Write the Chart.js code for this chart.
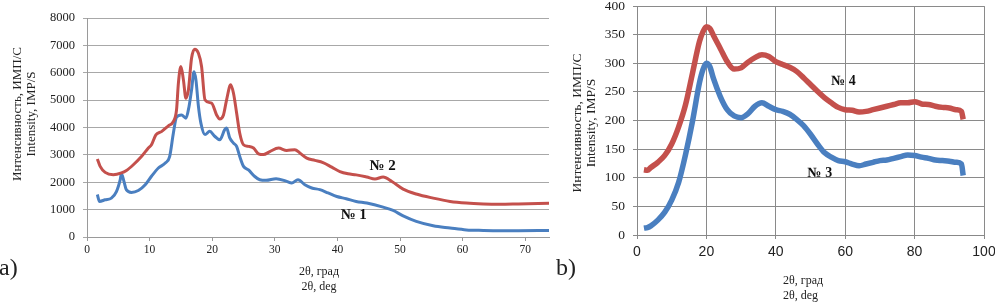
<!DOCTYPE html>
<html>
<head>
<meta charset="utf-8">
<script src="https://cdn.jsdelivr.net/npm/chart.js@4.4.1/dist/chart.umd.min.js"></script>
<style>
  html, body { margin: 0; padding: 0; background: #fff; overflow: hidden; width: 995px; height: 303px; }
  canvas { position: absolute; }
  .t { position: absolute; font-family: "Liberation Serif", "Times New Roman", serif; color: #222; white-space: nowrap; }
  .ytitle { width: 180px; height: 28px; line-height: 14px; text-align: center; transform: rotate(-90deg); }
</style>
</head>
<body>
<canvas id="chartA" width="550" height="303" style="left:0;top:0"></canvas>
<canvas id="chartB" width="460" height="313" style="left:550px;top:-10px"></canvas>

<div class="t" style="left:-1px;top:254px;font-size:24px">a)</div>
<div class="t" style="left:556px;top:254px;font-size:24px">b)</div>

<div class="t ytitle" style="left:-66px;top:100px;font-size:13px">Интенсивность, ИМП/С<br>Intensity, IMP/S</div>
<div class="t ytitle" style="left:494px;top:109px;font-size:13.5px">Интенсивность, ИМП/С<br>Intensity, IMP/S</div>

<div class="t" style="left:269px;top:264px;width:100px;text-align:center;font-size:12px;line-height:15px">2θ, град<br>2θ, deg</div>
<div class="t" style="left:783px;top:273px;font-size:12px;line-height:15px">2θ, град<br>2θ, deg</div>

<script>
// --- panel a) ---
const theta2 = [1.65, 2.1, 2.9, 4.2, 5.5, 6.3, 7.4, 8.7, 9.8, 10.3,
  11.0, 11.9, 13.0, 13.8, 14.3, 14.6, 15.0, 15.4, 15.8, 16.2,
  16.7, 17.2, 17.8, 18.3, 18.85, 19.9, 20.7, 21.2, 21.8, 22.3,
  22.95, 23.4, 23.9, 24.4, 25.0, 25.8, 26.6, 27.4, 28.2, 29.2,
  30.6, 31.9, 33.2, 34.0, 35.1, 36.4, 37.7, 39.1, 40.4, 41.7,
  43.0, 44.7, 46.0, 47.3, 48.7, 50.5, 52.6, 55.3, 58.0, 60.6,
  63.3, 65.9, 68.9, 73.8];
const sample2 = [2850, 2580, 2360, 2275, 2340, 2430, 2640, 2940, 3250, 3370,
  3730, 3850, 4060, 4220, 4640, 5620, 6230, 5740, 5070, 5370,
  6530, 6860, 6710, 6230, 5010, 4890, 4460, 4310, 4460, 5010,
  5560, 5250, 4530, 3790, 3370, 3310, 3250, 3040, 3010, 3120,
  3250, 3160, 3190, 3070, 2880, 2800, 2720, 2550, 2390, 2310,
  2270, 2190, 2120, 2190, 2030, 1750, 1570, 1420, 1300, 1240,
  1210, 1200, 1210, 1230];

const theta1 = [1.65, 2.0, 2.9, 3.9, 4.7, 5.3, 5.5, 5.9, 6.3, 7.1,
  8.2, 9.3, 10.3, 11.4, 12.5, 13.2, 13.8, 14.3, 15.1, 15.8,
  16.3, 16.7, 17.1, 17.4, 17.8, 18.2, 18.85, 19.6, 20.4, 21.2,
  22.0, 22.3, 22.8, 23.4, 23.9, 24.4, 25.0, 25.8, 26.8, 27.6,
  28.6, 30.2, 31.9, 32.7, 33.7, 34.8, 35.9, 37.2, 38.5, 39.9,
  41.4, 43.0, 44.7, 47.3, 48.9, 50.5, 52.6, 55.3, 58.0, 60.6,
  63.3, 65.9, 68.9, 73.8];
const sample1 = [1550, 1300, 1360, 1420, 1660, 2090, 2310, 2030, 1720, 1630,
  1700, 1910, 2220, 2520, 2700, 2940, 3800, 4380, 4460, 4340,
  4770, 5370, 6040, 5740, 4770, 4150, 3740, 3860, 3680, 3550,
  3920, 3980, 3620, 3430, 3310, 2940, 2580, 2450, 2210, 2090,
  2070, 2130, 2030, 1970, 2090, 1910, 1790, 1730, 1610, 1480,
  1400, 1300, 1240, 1090, 970, 770, 570, 410, 330, 260,
  240, 230, 230, 240];

// --- panel b) ---
const thetaB = [2, 3, 4, 6, 8, 10, 12, 14, 16, 18, 19, 20, 21, 22, 24, 26, 28, 30, 32, 34,
  36, 38, 40, 42, 44, 46, 48, 50, 52, 54, 56, 58, 60, 62, 64, 66, 68, 70, 72, 74,
  76, 78, 80, 82, 84, 86, 88, 90, 92, 93.5, 94];
const sample4 = [114, 113, 118, 127, 139, 159, 189, 228, 283, 338, 355, 364, 361, 349, 326, 303, 290, 292, 302, 310,
  315, 312, 303, 298, 293, 286, 275, 263, 251, 240, 231, 223, 219, 218, 215, 216, 219, 222, 225, 228,
  231, 231, 233, 229, 228, 225, 223, 222, 219, 216, 202];
const sample3 = [12, 13, 16, 26, 40, 61, 92, 141, 199, 266, 289, 300, 294, 274, 242, 219, 208, 205, 212, 225,
  231, 225, 219, 216, 211, 202, 191, 176, 159, 144, 136, 130, 128, 124, 121, 124, 127, 130, 131, 134,
  137, 140, 139, 136, 134, 131, 130, 129, 127, 124, 104];

const RED = '#c4504c';
const BLUE = '#4a7fc0';

const pts = (xs, ys) => xs.map((x, i) => ({ x, y: ys[i] }));

// draws "№ n" tags at data coordinates
const seriesTags = {
  id: 'seriesTags',
  afterDatasetsDraw(chart, args, opts) {
    const { ctx, scales: { x, y } } = chart;
    ctx.save();
    ctx.font = opts.font;
    ctx.fillStyle = '#111';
    ctx.textAlign = 'center';
    ctx.textBaseline = 'middle';
    (opts.items || []).forEach(it => {
      ctx.fillText(it.text, x.getPixelForValue(it.x), y.getPixelForValue(it.y));
    });
    ctx.restore();
  }
};

function lineSet(data, color, width) {
  return {
    data,
    borderColor: color,
    backgroundColor: color,
    borderWidth: width,
    pointRadius: 0,
    cubicInterpolationMode: 'monotone',
    fill: false,
  };
}

const serif = "'Liberation Serif', 'Times New Roman', serif";
const sans = "'Liberation Sans', Arial, sans-serif";
const plain = v => String(v); // no thousands separator

new Chart(document.getElementById('chartA'), {
  type: 'line',
  data: {
    datasets: [
      lineSet(pts(theta2, sample2), RED, 3),
      lineSet(pts(theta1, sample1), BLUE, 3),
    ],
  },
  options: {
    responsive: false,
    animation: false,
    layout: { padding: { left: 0, right: 1, top: 18, bottom: 42 } },
    plugins: {
      legend: { display: false },
      tooltip: { enabled: false },
      seriesTags: {
        font: "bold 15px " + serif,
        items: [
          { text: '№ 2', x: 47.2, y: 2600 },
          { text: '№ 1', x: 42.6, y: 800 },
        ],
      },
    },
    scales: {
      x: {
        type: 'linear',
        min: 0,
        max: 73.8,
        afterFit: s => { s.height = 24; },
        border: { color: '#9a9a9a' },
        grid: { drawOnChartArea: false, drawTicks: true, tickLength: 4, color: '#9a9a9a' },
        ticks: { stepSize: 10, includeBounds: false, padding: 2, color: '#222', font: { family: serif, size: 11.5 }, callback: plain },
      },
      y: {
        min: 0,
        max: 8000,
        afterFit: s => { s.width = 87; },
        border: { color: '#9a9a9a' },
        grid: { color: '#a8a8a8', tickLength: 4 },
        ticks: { stepSize: 1000, padding: 8, color: '#222', font: { family: serif, size: 12.5 }, callback: plain },
      },
    },
  },
  plugins: [seriesTags],
});

new Chart(document.getElementById('chartB'), {
  type: 'line',
  data: {
    datasets: [
      lineSet(pts(thetaB, sample4), RED, 5.5),
      lineSet(pts(thetaB, sample3), BLUE, 5.5),
    ],
  },
  options: {
    responsive: false,
    animation: false,
    layout: { padding: { left: 0, right: 26, top: 14, bottom: 44 } },
    plugins: {
      legend: { display: false },
      tooltip: { enabled: false },
      seriesTags: {
        font: "bold 14px " + serif,
        items: [
          { text: '№ 4', x: 59.5, y: 268 },
          { text: '№ 3', x: 52.7, y: 107 },
        ],
      },
    },
    scales: {
      x: {
        type: 'linear',
        min: 0,
        max: 100,
        afterFit: s => { s.height = 24; },
        border: { color: '#888' },
        grid: { color: '#8a8a8a', tickLength: 4 },
        ticks: { stepSize: 20, padding: 5, color: '#222', font: { family: sans, size: 14 }, callback: plain },
      },
      y: {
        min: 0,
        max: 400,
        afterFit: s => { s.width = 87; },
        border: { color: '#888' },
        grid: { color: '#8a8a8a', tickLength: 4 },
        ticks: { stepSize: 50, padding: 8, color: '#222', font: { family: serif, size: 13.5 }, callback: plain },
      },
    },
  },
  plugins: [seriesTags],
});
</script>
</body>
</html>
